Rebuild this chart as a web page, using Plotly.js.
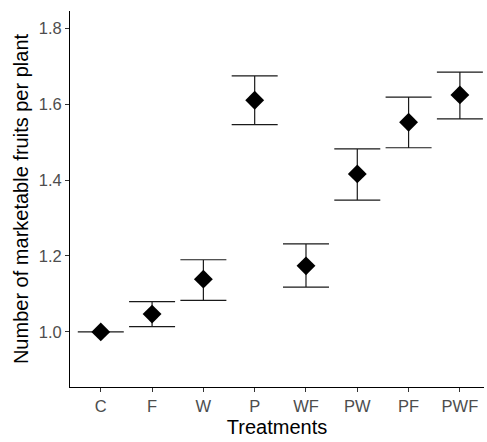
<!DOCTYPE html>
<html>
<head>
<meta charset="utf-8">
<script src="https://cdn.plot.ly/plotly-3.0.1.min.js"></script>
<style>html,body{margin:0;padding:0;background:#fff;}#chart{width:487px;height:442px;}</style>
</head>
<body>
<div id="chart"></div>
<script>
const treatments = ["C", "F", "W", "P", "WF", "PW", "PF", "PWF"];
const means = [1.000, 1.047, 1.139, 1.610, 1.174, 1.416, 1.552, 1.624];
const upper = [1.000, 1.080, 1.190, 1.674, 1.232, 1.482, 1.618, 1.684];
const lower = [1.000, 1.014, 1.083, 1.546, 1.118, 1.347, 1.485, 1.561];

const errPlus = means.map((m, i) => upper[i] - m);
const errMinus = means.map((m, i) => m - lower[i]);

const trace = {
  type: "scatter",
  mode: "markers",
  x: treatments.map((_, i) => i),
  y: means,
  marker: { symbol: "diamond", size: 14.5, color: "#000000" },
  error_y: {
    type: "data",
    symmetric: false,
    array: errPlus,
    arrayminus: errMinus,
    color: "#1a1a1a",
    thickness: 1.2,
    width: 23
  },
  hoverinfo: "skip"
};

const layout = {
  width: 487,
  height: 442,
  margin: { l: 70, r: 3, t: 11, b: 55 },
  paper_bgcolor: "#ffffff",
  plot_bgcolor: "#ffffff",
  showlegend: false,
  font: { family: "Liberation Sans, Arial, sans-serif" },
  xaxis: {
    range: [-0.6, 7.47],
    tickmode: "array",
    tickvals: treatments.map((_, i) => i),
    ticktext: treatments,
    showgrid: false,
    zeroline: false,
    showline: true,
    linecolor: "#000000",
    linewidth: 1,
    ticks: "outside",
    ticklen: 4,
    tickcolor: "#333333",
    tickfont: { size: 16.5, color: "#4d4d4d" },
    title: { text: "Treatments", font: { size: 20, color: "#000000" }, standoff: 6 }
  },
  yaxis: {
    range: [0.855, 1.845],
    tickvals: [1.0, 1.2, 1.4, 1.6, 1.8],
    ticktext: ["1.0", "1.2", "1.4", "1.6", "1.8"],
    showgrid: false,
    zeroline: false,
    showline: true,
    linecolor: "#000000",
    linewidth: 1,
    ticks: "outside",
    ticklen: 4,
    tickcolor: "#333333",
    tickfont: { size: 16.5, color: "#4d4d4d" },
    title: { text: "Number of marketable fruits per plant", font: { size: 20, color: "#000000" }, standoff: 4 }
  }
};

Plotly.newPlot("chart", [trace], layout, { displayModeBar: false, staticPlot: true });
</script>
</body>
</html>
